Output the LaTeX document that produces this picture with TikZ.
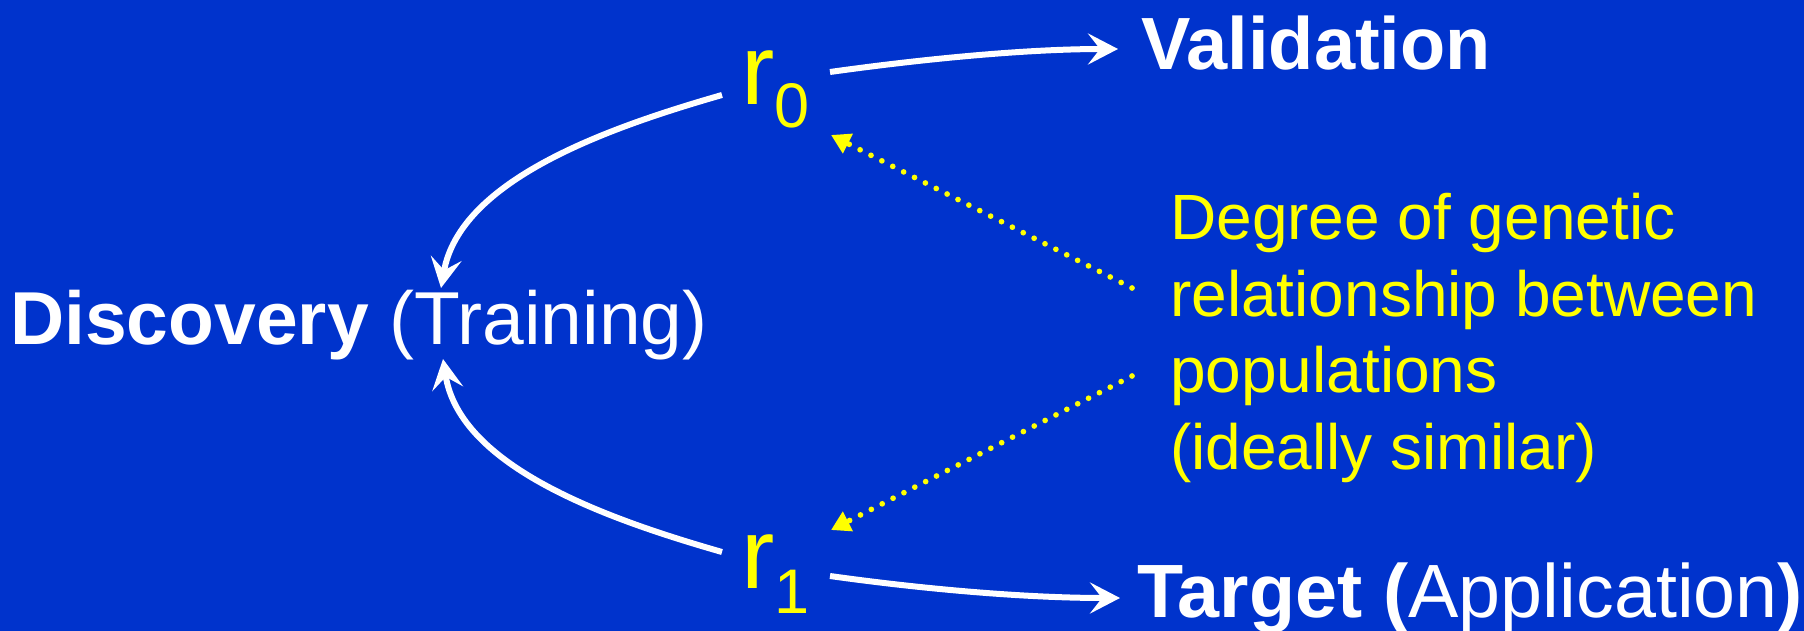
\documentclass[tikz,border=0pt]{standalone}
\usepackage{fontspec}
\setmainfont{Liberation Sans}
\usetikzlibrary{arrows.meta}
\definecolor{bgblue}{RGB}{0,51,204}
\definecolor{ylw}{RGB}{255,255,0}
\begin{document}
\begin{tikzpicture}[x=1pt,y=-1pt,
  lbl/.style={inner sep=0pt, anchor=base west, text=white},
  warrow/.style={draw=white, line width=6pt, -{Stealth[length=30pt,width=31pt,inset=12pt]}},
  yarrow/.style={draw=ylw, line width=5.7pt, line cap=round, dash pattern=on 0pt off 12.2pt, -{Triangle[length=19pt,width=21pt]}}]
\fill[bgblue] (0,0) rectangle (1804,631);
\useasboundingbox (0,0) rectangle (1804,631);

% text nodes
\node[lbl, font=\fontsize{75}{75}\selectfont] (disc) at (10,344) {\textbf{Discovery} (Training)};
\node[lbl, font=\fontsize{74}{74}\selectfont\bfseries] (val) at (1141,70) {Validation};
\node[lbl, font=\fontsize{75.5}{75.5}\selectfont] (tgt) at (1137,617) {\textbf{Target (}Application\textbf{)}};
\node[lbl, text=ylw] (r0) at (741,105) {\fontsize{100}{100}\selectfont r\fontsize{63}{63}\selectfont\raisebox{-23pt}{0}};
\node[lbl, text=ylw] (r1) at (741,588) {\fontsize{100}{100}\selectfont r\fontsize{63}{63}\selectfont\raisebox{-25pt}{1}};
\node[inner sep=0pt, anchor=north west, text=ylw, align=left, font=\fontsize{64}{76.7}\selectfont] (deg) at (1170,193) {Degree of genetic\\relationship between\\populations\\(ideally similar)};

% connector end points
\coordinate (r0e) at (830,72);
\coordinate (valw) at (1118,49);
\coordinate (r1e) at (830,576);
\coordinate (tgtw) at (1120,598);
\coordinate (r0w) at (722,95);
\coordinate (discn) at (441,288);
\coordinate (r1w) at (722,552);
\coordinate (discs) at (443,359);
\coordinate (degu) at (1132,288);
\coordinate (degl) at (1132,376);
\coordinate (r0s) at (831,135);
\coordinate (r1n) at (831,530);

% connectors
\draw[warrow] (r0e) .. controls (930,58) and (1030,49) .. (valw);
\draw[warrow] (r1e) .. controls (930,590) and (1030,598) .. (tgtw);
\draw[warrow] (r0w) .. controls (607,128) and (460,180) .. (discn);
\draw[warrow] (r1w) .. controls (607,519) and (460,467) .. (discs);
\draw[yarrow] (degu) -- (r0s);
\draw[yarrow] (degl) -- (r1n);
\end{tikzpicture}
\end{document}
